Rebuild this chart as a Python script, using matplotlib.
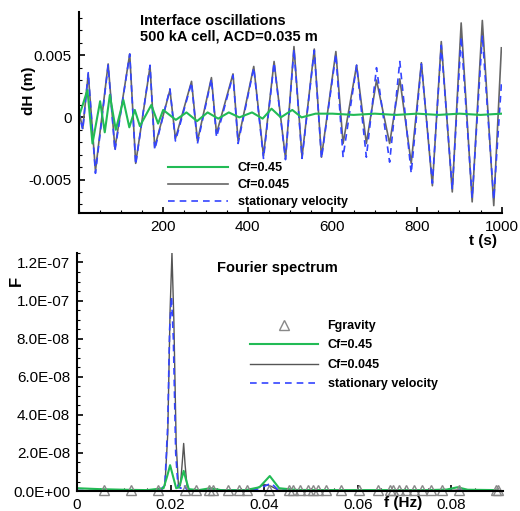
import matplotlib
matplotlib.use('Agg')
import matplotlib.pyplot as plt
from matplotlib.ticker import MultipleLocator, FuncFormatter, FixedLocator

plt.rcParams['font.family'] = ['Liberation Sans', 'DejaVu Sans']
plt.rcParams['axes.unicode_minus'] = False

# top panel: interface oscillations (extrema)
t_cf045 = [0, 10, 23, 40, 70, 86, 121, 135, 169, 180, 216, 229, 267, 281, 314, 326, 365, 377,
           414, 437, 462, 489, 509, 528, 557, 574, 608, 625, 657, 680, 704, 735, 759, 786,
           810, 836, 857, 883, 904, 930, 954, 981, 999]
dh_cf045 = [0.0006, -0.0009, 0.0035, -0.0043, 0.0043, -0.0025, 0.0051, -0.0037, 0.0041, -0.0024,
            0.0022, -0.0017, 0.0029, -0.0019, 0.0032, -0.0013, 0.0035, -0.0019, 0.0041, -0.0031,
            0.0045, -0.0033, 0.0057, -0.0032, 0.0055, -0.0032, 0.0053, -0.0021, 0.0042, -0.0021,
            0.0030, -0.0021, 0.0031, -0.0037, 0.0044, -0.0055, 0.0061, -0.0060, 0.0076, -0.0068,
            0.0078, -0.0071, 0.0056]
t_stat = t_cf045
dh_stat = [0.0005, -0.0010, 0.0036, -0.0045, 0.0042, -0.0027, 0.0051, -0.0038, 0.0042, -0.0026,
           0.0023, -0.0019, 0.0028, -0.0021, 0.0031, -0.0016, 0.0034, -0.0021, 0.0040, -0.0033,
           0.0044, -0.0034, 0.0055, -0.0033, 0.0054, -0.0033, 0.0051, -0.0032, 0.0042, -0.0032,
           0.0040, -0.0036, 0.0045, -0.0045, 0.0043, -0.0053, 0.0058, -0.0058, 0.0065, -0.0065,
           0.0066, -0.0066, 0.0027]
t_cf45 = [0, 8, 21, 33, 51, 62, 74, 88, 106, 120, 133, 145, 172, 188, 200, 230, 255, 280,
          305, 330, 355, 380, 410, 435, 456, 478, 505, 527, 560, 600, 650, 700, 750, 800,
          850, 900, 950, 1000]
dh_cf45 = [0.0, 0.0008, 0.0022, -0.0021, 0.0013, -0.0012, 0.0018, -0.0010, 0.0014, -0.0008,
           0.0006, -0.0007, 0.0010, -0.0005, 0.0006, -0.0002, 0.0004, -0.0003, 0.0004, -0.0001,
           0.0004, 0.0000, 0.0004, -0.0001, 0.0007, 0.0000, 0.0006, 0.0000, 0.0003, 0.0003,
           0.0002, 0.0003, 0.0002, 0.0003, 0.0002, 0.0003, 0.0002, 0.0003]

# bottom panel: Fourier spectrum (values in 1e-9)
f_cf045 = [0, 0.005, 0.010, 0.015, 0.0180, 0.0188, 0.0194, 0.0199, 0.0203, 0.0207, 0.0212, 0.0217,
           0.0221, 0.0225, 0.0228, 0.0231, 0.0235, 0.024, 0.026, 0.030, 0.035, 0.038, 0.040,
           0.0415, 0.043, 0.050, 0.060, 0.070, 0.080, 0.082, 0.084, 0.090]
F_cf045 = [0.3, 0.2, 0.2, 0.3, 0.5, 3, 30, 95, 125, 90, 25, 2, 3, 15, 25, 14, 3, 0.6, 0.4, 0.6,
           0.4, 1, 3.5, 2.5, 0.5, 0.3, 0.2, 0.2, 0.4, 0.6, 0.3, 0.2]
f_stat = [0, 0.005, 0.010, 0.015, 0.0180, 0.0188, 0.0194, 0.0198, 0.0202, 0.0206, 0.0211, 0.0216,
          0.0222, 0.0228, 0.0234, 0.024, 0.030, 0.038, 0.0405, 0.0415, 0.043, 0.050, 0.060,
          0.070, 0.080, 0.090]
F_stat = [0.3, 0.2, 0.2, 0.3, 0.5, 4, 35, 85, 102, 80, 20, 2, 1.5, 3.5, 1, 0.3, 0.3, 0.5, 3, 4.2,
          0.5, 0.2, 0.2, 0.2, 0.3, 0.2]
f_cf45 = [0, 0.005, 0.010, 0.015, 0.0185, 0.0193, 0.0199, 0.0205, 0.0212, 0.0218, 0.0223, 0.0228,
          0.0233, 0.0239, 0.026, 0.0285, 0.031, 0.036, 0.039, 0.0412, 0.0432, 0.047, 0.055,
          0.065, 0.075, 0.079, 0.0813, 0.0835, 0.090]
F_cf45 = [1.5, 1.0, 0.7, 0.5, 1.5, 8, 13.6, 8, 1.5, 2, 6, 10.6, 6, 1, 0.5, 1.5, 0.4, 0.5, 2, 7.9,
          1.5, 0.6, 0.5, 0.5, 0.5, 0.8, 2.0, 0.7, 0.5]
f_gravity = [0.0058, 0.0115, 0.0173, 0.0230, 0.0254, 0.0282, 0.0291, 0.0323, 0.0346, 0.0364,
             0.0410, 0.0453, 0.0461, 0.0477, 0.0494, 0.0504, 0.0515, 0.0532, 0.0565, 0.0602,
             0.0643, 0.0668, 0.0675, 0.0689, 0.0703, 0.0720, 0.0737, 0.0757, 0.0781, 0.0816,
             0.0895, 0.0900]

green = '#22bb55'
gray = '#666666'
blue = '#3344ff'

fig = plt.figure(figsize=(5.2, 5.11), dpi=100)
ax1 = fig.add_axes([0.151, 0.583, 0.814, 0.394])
ax2 = fig.add_axes([0.148, 0.039, 0.819, 0.466])

for ax in (ax1, ax2):
    ax.spines['top'].set_visible(False)
    ax.spines['right'].set_visible(False)
    ax.spines['left'].set_linewidth(1.5)
    ax.spines['bottom'].set_linewidth(1.5)
    ax.tick_params(which='major', direction='in', length=4, width=1.2, labelsize=11, pad=5)
    ax.tick_params(which='minor', direction='in', length=2.5, width=0.8)

# top
ax1.plot(t_cf045, dh_cf045, color=gray, lw=1.2, label='Cf=0.045')
ax1.plot(t_stat, dh_stat, color=blue, lw=1.2, ls=(0, (4, 3)), label='stationary velocity')
ax1.plot(t_cf45, dh_cf45, color=green, lw=1.5, label='Cf=0.45')
ax1.set_xlim(0, 1000)
ax1.set_ylim(-0.0077, 0.0085)
ax1.xaxis.set_major_locator(FixedLocator([200, 400, 600, 800, 1000]))
ax1.xaxis.set_minor_locator(MultipleLocator(50))
ax1.yaxis.set_major_locator(FixedLocator([-0.005, 0, 0.005]))
ax1.yaxis.set_minor_locator(MultipleLocator(0.001))
ax1.yaxis.set_major_formatter(FuncFormatter(lambda v, p: '0' if abs(v) < 1e-12 else '%g' % v))
h, l = ax1.get_legend_handles_labels()
ax1.legend([h[2], h[0], h[1]], [l[2], l[0], l[1]], loc='upper left',
           bbox_to_anchor=(168 / 520, 1 - 162 / 511), bbox_transform=fig.transFigure,
           frameon=False, borderpad=0, borderaxespad=0, handlelength=4.8, handletextpad=0.8,
           labelspacing=0.4, prop={'weight': 'bold', 'size': 9})
fig.text(140 / 520, 1 - 29 / 511, 'Interface oscillations\n500 kA cell, ACD=0.035 m',
         fontsize=10.5, fontweight='bold', va='center', ha='left', linespacing=1.1)
fig.text(29 / 520, 1 - 91 / 511, 'dH (m)', rotation=90, fontsize=11, fontweight='bold',
         ha='center', va='center')
fig.text(483 / 520, 1 - 241 / 511, 't (s)', fontsize=11, fontweight='bold', ha='center', va='center')

# bottom
ax2.plot(f_cf045, [v * 1e-9 for v in F_cf045], color='#555555', lw=1.0, label='Cf=0.045')
ax2.plot(f_stat, [v * 1e-9 for v in F_stat], color=blue, lw=1.2, ls=(0, (4, 3)),
         label='stationary velocity')
ax2.plot(f_cf45, [v * 1e-9 for v in F_cf45], color=green, lw=1.5, label='Cf=0.45')
ax2.plot(f_gravity, [0.6e-9] * len(f_gravity), ls='none', marker='^', ms=7, mfc='none',
         mec='#888888', mew=1.0, clip_on=False, label='Fgravity')
ax2.set_xlim(0, 0.091)
ax2.set_ylim(0, 1.25e-7)
ax2.xaxis.set_major_locator(FixedLocator([0, 0.02, 0.04, 0.06, 0.08]))
ax2.xaxis.set_minor_locator(MultipleLocator(0.005))
ax2.xaxis.set_major_formatter(FuncFormatter(lambda v, p: '0' if abs(v) < 1e-12 else '%g' % v))
ax2.yaxis.set_major_locator(MultipleLocator(2e-8))
ax2.yaxis.set_minor_locator(MultipleLocator(5e-9))
ax2.yaxis.set_major_formatter(FuncFormatter(lambda v, p: '%.1E' % v))
h, l = ax2.get_legend_handles_labels()
ax2.legend([h[3], h[2], h[0], h[1]], [l[3], l[2], l[0], l[1]], loc='upper left',
           bbox_to_anchor=(250 / 520, 1 - 320 / 511), bbox_transform=fig.transFigure,
           frameon=False, borderpad=0, borderaxespad=0, handlelength=5.4, handletextpad=0.8,
           labelspacing=0.6, prop={'weight': 'bold', 'size': 9})
fig.text(217 / 520, 1 - 268 / 511, 'Fourier spectrum', fontsize=10.5, fontweight='bold',
         ha='left', va='center')
fig.text(16 / 520, 1 - 281 / 511, 'F', rotation=90, fontsize=12, fontweight='bold',
         ha='center', va='center')
fig.text(403 / 520, 1 - 503 / 511, 'f (Hz)', fontsize=11, fontweight='bold', ha='center',
         va='center')

fig.savefig('out.png', dpi=100)
